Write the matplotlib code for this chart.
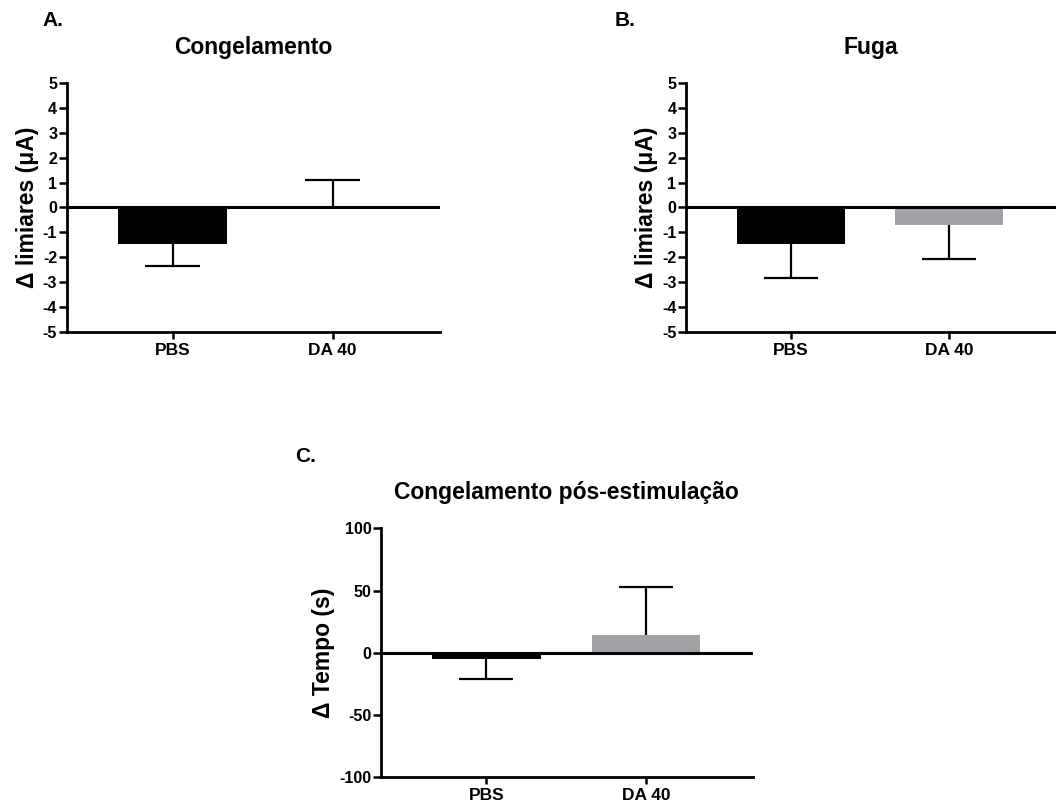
import numpy as np
import matplotlib
matplotlib.use("Agg")
import matplotlib.pyplot as plt

plt.rcParams['font.family'] = ['Liberation Sans', 'DejaVu Sans']
plt.rcParams['font.weight'] = 'bold'
plt.rcParams['axes.unicode_minus'] = False

grupos = ["PBS", "DA 40"]
cores = ["black", "#a2a2a6"]

cong_media = [-1.45, 0.0]
cong_erro = [0.9, 1.1]

fuga_media = [-1.45, -0.7]
fuga_erro = [1.4, 1.35]

pos_media = [-5.0, 14.5]
pos_erro = [16.5, 38.5]


def painel(ax, medias, erros, titulo, ylabel, ylim, yticks):
    x = np.arange(len(grupos))
    ax.bar(x, medias, width=0.68, color=cores, zorder=2)
    # barra de erro só para o lado de fora (estilo GraphPad)
    for xi, m, e in zip(x, medias, erros):
        fim = m - e if m < 0 else m + e
        ax.vlines(xi, m, fim, color='black', lw=1.6, zorder=3)
        ax.hlines(fim, xi - 0.17, xi + 0.17, color='black', lw=1.6, zorder=3)
    ax.axhline(0, color='black', lw=2.2, zorder=4)
    ax.set_xlim(-0.66, 1.67)
    ax.set_ylim(*ylim)
    ax.set_yticks(yticks)
    ax.set_xticks(x)
    ax.set_xticklabels(grupos, fontsize=12.5, fontweight='bold')
    for lbl in ax.get_yticklabels():
        lbl.set_fontsize(11.5)
        lbl.set_fontweight('bold')
    ax.spines['top'].set_visible(False)
    ax.spines['right'].set_visible(False)
    ax.spines['left'].set_linewidth(2)
    ax.spines['bottom'].set_linewidth(2)
    ax.tick_params(axis='y', width=1.8, length=6, pad=1)
    ax.tick_params(axis='x', width=1.8, length=5, pad=3)
    ax.set_ylabel(ylabel, fontsize=16.5, fontweight='bold', labelpad=3)
    ax.set_title(titulo, fontsize=16.5, fontweight='bold', pad=21)
    return ax


fig = plt.figure(figsize=(10.56, 8.07), dpi=100)

ax_a = fig.add_axes([0.0634, 0.5886, 0.353, 0.3086])
painel(ax_a, cong_media, cong_erro, "Congelamento",
       "\u0394 limiares (\u03bcA)", (-5, 5), range(-5, 6))

ax_b = fig.add_axes([0.6496, 0.5886, 0.350, 0.3086])
painel(ax_b, fuga_media, fuga_erro, "Fuga",
       "\u0394 limiares (\u03bcA)", (-5, 5), range(-5, 6))

ax_c = fig.add_axes([0.3608, 0.0372, 0.352, 0.3080])
painel(ax_c, pos_media, pos_erro, "Congelamento pós-estimulação",
       "\u0394 Tempo (s)", (-100, 100), [-100, -50, 0, 50, 100])

fig.text(42 / 1056, 1 - 20 / 807, "A.", fontsize=15, fontweight='bold', va='center')
fig.text(615 / 1056, 1 - 20 / 807, "B.", fontsize=15, fontweight='bold', va='center')
fig.text(295 / 1056, 1 - 457 / 807, "C.", fontsize=15, fontweight='bold', va='center')

fig.savefig("out.png", dpi=100)
